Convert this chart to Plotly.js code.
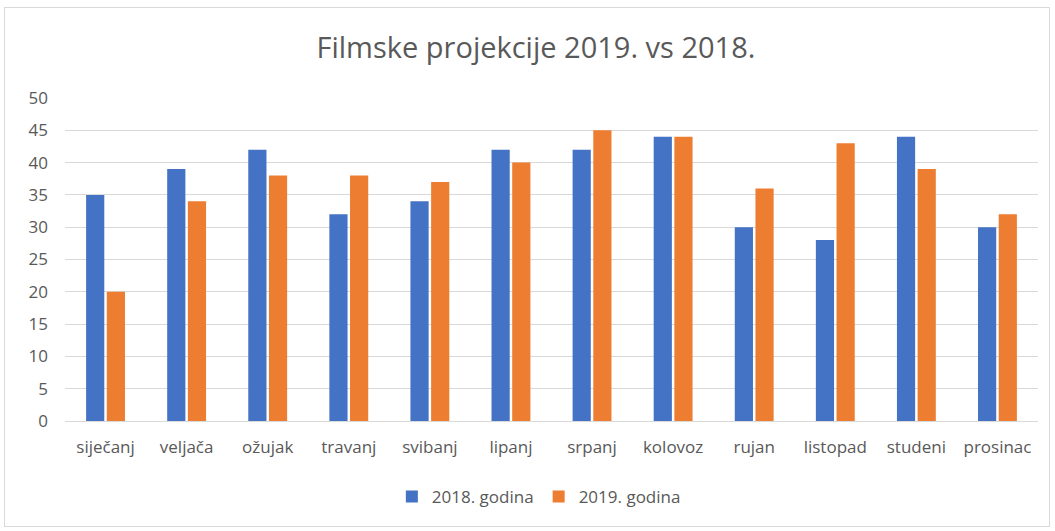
<!DOCTYPE html>
<html><head><meta charset="utf-8">
<script src="https://cdn.plot.ly/plotly-3.0.1.min.js"></script>
<style>
html,body{margin:0;padding:0;background:#fff;}
#wrap{position:relative;width:1055px;height:531px;}
#chart{width:1055px;height:531px;}
#frame{position:absolute;left:4px;top:7px;width:1046px;height:520px;border:1px solid #d9d9d9;pointer-events:none;box-sizing:border-box;}
</style></head>
<body>
<div id="wrap"><div id="chart"></div><div id="frame"></div></div>
<script>
const months = ["siječanj","veljača","ožujak","travanj","svibanj","lipanj","srpanj","kolovoz","rujan","listopad","studeni","prosinac"];
const values2018 = [35,39,42,32,34,42,42,44,30,28,44,30];
const values2019 = [20,34,38,38,37,40,45,44,36,43,39,32];
const yTicks = [0,5,10,15,20,25,30,35,40,45,50];

const font = "Open Sans, Liberation Sans, sans-serif";
const data = [
  {type:"bar", name:"2018. godina", x:months, y:values2018, marker:{color:"#4472c4"}},
  {type:"bar", name:"2019. godina", x:months, y:values2019, marker:{color:"#ed7d31"}}
];
const layout = {
  width:1055, height:531,
  margin:{l:65, r:17, t:98, b:110},
  paper_bgcolor:"rgba(0,0,0,0)", plot_bgcolor:"#fff",
  title:{text:"Filmske projekcije 2019. vs 2018.", x:0.508, xanchor:"center", y:0.91, yanchor:"middle", font:{family:font, size:29, color:"#595959"}},
  barmode:"group", bargap:0.49, bargroupgap:0.12,
  font:{family:font, color:"#595959"},
  xaxis:{tickfont:{size:17, color:"#595959"}, showgrid:false, showline:false, ticks:"", ticklabelstandoff:14},
  yaxis:{range:[0,50], tickvals:yTicks, ticktext:yTicks.map(String), gridcolor:"#d9d9d9", gridwidth:1, zeroline:true, zerolinecolor:"#d9d9d9", zerolinewidth:1, tickfont:{size:17, color:"#595959"}, ticks:"", ticklabelstandoff:16},
  showlegend:true,
  legend:{orientation:"h", x:0.487, xanchor:"center", y:-0.235, yanchor:"middle", font:{size:17, color:"#595959"}, itemwidth:30, traceorder:"normal"}
};
Plotly.newPlot("chart", data, layout, {displayModeBar:false});
</script>
</body></html>
